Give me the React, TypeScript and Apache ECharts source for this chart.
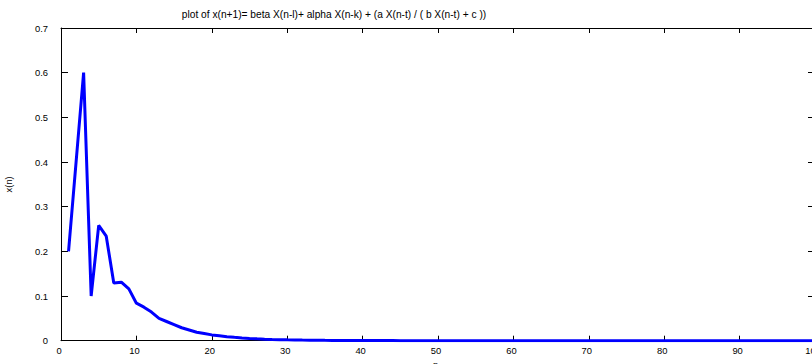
import React, { useEffect, useRef } from "react";
import * as echarts from "echarts";

const titleText = "plot of x(n+1)= beta X(n-l)+ alpha X(n-k) + (a X(n-t) / ( b X(n-t) + c ))";
const xLabel = "n";
const yLabel = "x(n)";

const nValues: number[] = [
  1, 2, 3, 4, 5, 6, 7, 8, 9, 10,
  11, 12, 13, 14, 15, 16, 17, 18, 19, 20,
  21, 22, 23, 24, 25, 26, 27, 28, 29, 30,
  31, 32, 33, 34, 35, 36, 37, 38, 39, 40,
  41, 42, 43, 44, 45, 46, 47, 48, 49, 50,
  51, 52, 53, 54, 55, 56, 57, 58, 59, 60,
  61, 62, 63, 64, 65, 66, 67, 68, 69, 70,
  71, 72, 73, 74, 75, 76, 77, 78, 79, 80,
  81, 82, 83, 84, 85, 86, 87, 88, 89, 90,
  91, 92, 93, 94, 95, 96, 97, 98, 99, 100,
];

const xValues: number[] = [
  0.2, 0.4, 0.6, 0.1, 0.258, 0.234, 0.129, 0.131, 0.116, 0.084,
  0.075, 0.064, 0.05, 0.043, 0.036, 0.029, 0.024, 0.019, 0.016, 0.013,
  0.011, 0.009, 0.0075, 0.0062, 0.0051, 0.0042, 0.0035, 0.0029, 0.0024, 0.002,
  0.0017, 0.0014, 0.0012, 0.001, 0.0008, 0.0007, 0.0006, 0.0005, 0.0004, 0.0003,
  0.0003, 0.0002, 0.0002, 0.0002, 0.0001, 0.0001, 0.0001, 0.0001, 0.0001, 0.0001,
  0.0001, 0.0001, 0, 0, 0, 0, 0, 0, 0, 0,
  0, 0, 0, 0, 0, 0, 0, 0, 0, 0,
  0, 0, 0, 0, 0, 0, 0, 0, 0, 0,
  0, 0, 0, 0, 0, 0, 0, 0, 0, 0,
  0, 0, 0, 0, 0, 0, 0, 0, 0, 0,
];

const FONT = "'Liberation Sans', Arial, sans-serif";

export default function App() {
  const ref = useRef<HTMLDivElement>(null);

  useEffect(() => {
    document.body.style.margin = "0";
    const chart = echarts.init(ref.current!, null, { renderer: "svg" });
    const data = nValues.map((n, i) => [n, xValues[i]]);
    const tickStyle = { color: "#000", fontSize: 9.4, fontFamily: FONT };
    chart.setOption({
      animation: false,
      backgroundColor: "#fff",
      title: {
        text: titleText,
        left: 329,
        top: 4,
        textAlign: "center",
        textStyle: { fontSize: 10.2, fontWeight: "normal", color: "#000", fontFamily: FONT },
      },
      grid: { left: 61, top: 28, width: 754, height: 312.7, show: false, outerBoundsMode: "none", containLabel: false },
      xAxis: [
        {
          type: "value",
          min: 0,
          max: 100,
          interval: 10,
          position: "bottom",
          name: xLabel,
          nameLocation: "middle",
          nameGap: 19,
          nameTextStyle: { color: "#000", fontSize: 9.4, fontFamily: FONT, padding: [0, 5, 0, 0] },
          axisLine: { show: true, onZero: false, lineStyle: { color: "#000", width: 1 } },
          axisTick: { show: true, inside: true, length: 5, lineStyle: { color: "#000" } },
          axisLabel: { ...tickStyle, margin: 5, padding: [0, 4, 0, 0] },
          splitLine: { show: false },
        },
        {
          type: "value",
          min: 0,
          max: 100,
          interval: 10,
          position: "top",
          axisLine: { show: true, onZero: false, lineStyle: { color: "#000", width: 1 } },
          axisTick: { show: true, inside: true, length: 5, lineStyle: { color: "#000" } },
          axisLabel: { show: false },
          splitLine: { show: false },
        },
      ],
      yAxis: [
        {
          type: "value",
          min: 0,
          max: 0.7,
          interval: 0.1,
          position: "left",
          name: yLabel,
          nameLocation: "middle",
          nameGap: 48,
          nameRotate: 90,
          nameTextStyle: { color: "#000", fontSize: 9.4, fontFamily: FONT },
          axisLine: { show: true, onZero: false, lineStyle: { color: "#000", width: 1 } },
          axisTick: { show: true, inside: true, length: 7, lineStyle: { color: "#000" } },
          axisLabel: { ...tickStyle, margin: 13, formatter: (v: number) => String(Math.round(v * 10) / 10) },
          splitLine: { show: false },
        },
        {
          type: "value",
          min: 0,
          max: 0.7,
          interval: 0.1,
          position: "right",
          axisLine: { show: true, onZero: false, lineStyle: { color: "#000", width: 1 } },
          axisTick: { show: true, inside: true, length: 7, lineStyle: { color: "#000" } },
          axisLabel: { show: false },
          splitLine: { show: false },
        },
      ],
      series: [
        {
          type: "line",
          data,
          xAxisIndex: 0,
          yAxisIndex: 0,
          showSymbol: false,
          symbol: "none",
          lineStyle: { color: "#0000ff", width: 3 },
          z: 1,
        },
      ],
    });
    return () => chart.dispose();
  }, []);

  return (
    <div style={{ width: 812, height: 364, overflow: "hidden", position: "absolute", left: 0, top: 0 }}>
      <div ref={ref} style={{ width: 830, height: 364 }} />
    </div>
  );
}
